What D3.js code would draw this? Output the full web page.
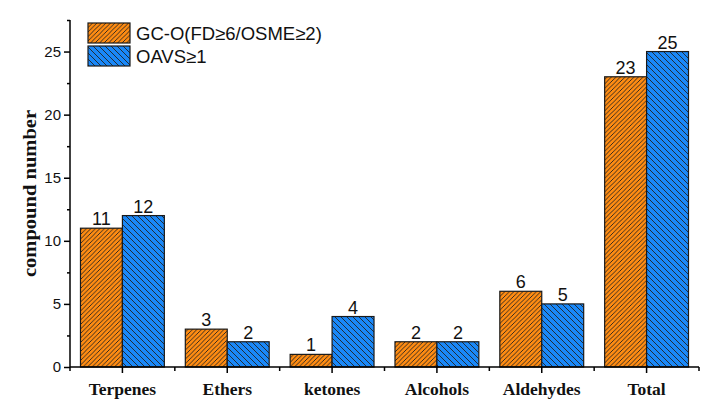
<!DOCTYPE html>
<html><head><meta charset="utf-8">
<script src="https://cdn.jsdelivr.net/npm/d3@7"></script>
<style>body{margin:0;background:#fff}</style>
</head><body>
<svg id="c" width="717" height="418"></svg>
<script>
const categories = ["Terpenes","Ethers","ketones","Alcohols","Aldehydes","Total"];
const seriesNames = ["GC-O(FD\u22656/OSME\u22652)","OAVS\u22651"];
const gcoValues = [11,3,1,2,6,23];
const oavValues = [12,2,4,2,5,25];
const yTicks = [0,5,10,15,20,25];
const yMinorTicks = [2.5,7.5,12.5,17.5,22.5,27.5];

const svg = d3.select("#c");
const W=717,H=418;
const m={left:70,right:18,top:20,bottom:51};
const x0 = d3.scaleBand().domain(categories).range([m.left, W-m.right]).paddingInner(0.2).paddingOuter(0.1);
const xFull = d3.scaleBand().domain(categories).range([m.left, W-m.right]);
const x1 = d3.scaleBand().domain([0,1]).range([0,x0.bandwidth()]);
const y = d3.scaleLinear().domain([0,27.5]).range([H-m.bottom, m.top]);

const colors=["#FF8C12","#1A88F8"];
const defs=svg.append("defs");
function hatch(id,color,spacing,dir){
  const p=defs.append("pattern").attr("id",id).attr("patternUnits","userSpaceOnUse")
    .attr("width",spacing).attr("height",spacing);
  p.append("rect").attr("width",spacing).attr("height",spacing).attr("fill",color);
  const s=spacing;
  if(dir>0){
    p.append("path").attr("d",`M0,${s} L${s},0 M${-s/2},${s/2} L${s/2},${-s/2} M${s/2},${s*1.5} L${s*1.5},${s/2}`)
     .attr("stroke","#222").attr("stroke-width",0.9);
  } else {
    p.append("path").attr("d",`M0,0 L${s},${s} M${-s/2},${s/2} L${s/2},${s*1.5} M${s/2},${-s/2} L${s*1.5},${s/2}`)
     .attr("stroke","#222").attr("stroke-width",0.9);
  }
}
hatch("h0",colors[0],4.5,1);
hatch("h1",colors[1],6,-1);

const data = categories.map((c,i)=>({c, v:[gcoValues[i],oavValues[i]]}));
const g = svg.append("g");
data.forEach(d=>{
  d.v.forEach((v,j)=>{
    const bx = x0(d.c)+x1(j);
    g.append("rect").attr("x",bx).attr("y",y(v)).attr("width",x1.bandwidth()).attr("height",y(0)-y(v))
      .attr("fill",`url(#h${j})`).attr("stroke","#1a1a1a").attr("stroke-width",1.2);
    g.append("text").attr("x",bx+x1.bandwidth()/2).attr("y",y(v)-3).attr("text-anchor","middle")
      .attr("font-family","Liberation Sans, Arial, sans-serif").attr("font-size",18).attr("fill","#111").text(v);
  });
});

// y axis
const ya = svg.append("g").attr("transform",`translate(${m.left},0)`)
  .call(d3.axisLeft(y).tickValues(yTicks).tickSize(6).tickPadding(3));
ya.select(".domain").attr("stroke","#000").attr("stroke-width",1.5).attr("d",`M0,${y(0)}V${m.top}`);
ya.selectAll(".tick line").attr("stroke-width",1.5);
ya.selectAll("text").attr("font-family","Liberation Sans, Arial, sans-serif").attr("font-size",15).attr("fill","#111");
const yam = svg.append("g").attr("transform",`translate(${m.left},0)`)
  .call(d3.axisLeft(y).tickValues(yMinorTicks).tickSize(3).tickFormat(""));
yam.select(".domain").remove();
yam.selectAll(".tick line").attr("stroke-width",1.5);

// x axis
const xa = svg.append("g").attr("transform",`translate(0,${y(0)})`)
  .call(d3.axisBottom(x0).tickSize(6).tickPadding(10));
xa.select(".domain").attr("stroke-width",1.5).attr("d",`M${m.left},0H${W-m.right}`);
xa.selectAll(".tick line").attr("stroke-width",1.5);
xa.selectAll("text").attr("font-family","Liberation Serif, Times New Roman, serif").attr("font-weight","bold")
  .attr("font-size",17.5).attr("fill","#111");
const bounds = categories.map(c=>xFull(c)).concat([W-m.right]);
svg.append("g").selectAll("line").data(bounds).join("line")
  .attr("x1",d=>d).attr("x2",d=>d).attr("y1",y(0)).attr("y2",y(0)+4).attr("stroke","#000").attr("stroke-width",1.5);

// y title
svg.append("text").attr("transform",`translate(36,${(y(0)+m.top)/2+0}) rotate(-90)`).attr("text-anchor","middle")
  .attr("font-family","Liberation Serif, Times New Roman, serif").attr("font-weight","bold").attr("font-size",19)
  .attr("textLength",167).attr("lengthAdjust","spacingAndGlyphs")
  .attr("fill","#111").text("compound number");

// legend
const lg = svg.append("g").attr("transform","translate(88,23)");
seriesNames.forEach((n,j)=>{
  lg.append("rect").attr("x",0).attr("y",j*23).attr("width",42).attr("height",20)
    .attr("fill",`url(#h${j})`).attr("stroke","#1a1a1a").attr("stroke-width",1.2);
  lg.append("text").attr("x",48).attr("y",j*23+16.5).attr("font-family","Liberation Sans, Arial, sans-serif")
    .attr("font-size",18.5).attr("fill","#111").text(n);
});
</script>
</body></html>
